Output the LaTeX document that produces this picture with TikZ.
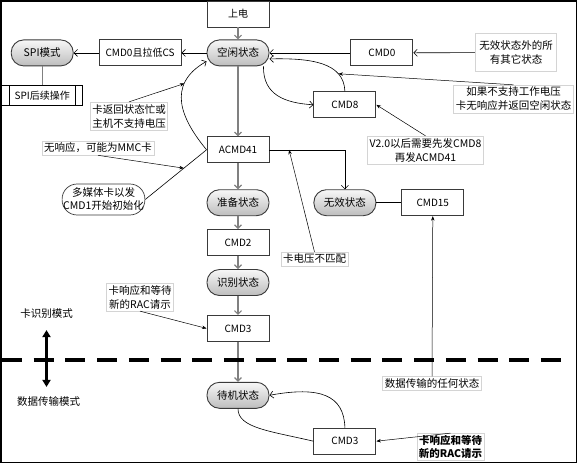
\documentclass[tikz,border=0pt]{standalone}
\usepackage{fontspec}
\setmainfont{Noto Sans CJK SC}
\usepackage{xcolor}
\usepackage{tikz}
\usetikzlibrary{positioning, arrows.meta}
\definecolor{flowgray}{HTML}{808080}
\definecolor{statetop}{HTML}{F7F7F7}
\definecolor{statebottom}{HTML}{BDBDBD}
\definecolor{notegray}{HTML}{D4D4D4}
\definecolor{edgegray}{HTML}{3A3A3A}
\tikzset{
  box/.style={draw=edgegray, line width=0.9pt, fill=white, align=center, font=\fontsize{10}{12}\selectfont, minimum width=62pt, minimum height=26pt, inner sep=2pt},
  state/.style={draw=edgegray, line width=0.9pt, rounded corners=12.5pt, top color=statetop, bottom color=statebottom, align=center, font=\fontsize{10.5}{12}\selectfont, minimum width=62pt, minimum height=26pt, inner sep=2pt},
  subproc/.style={draw=black, line width=0.8pt, fill=white, font=\fontsize{10}{12}\selectfont, minimum width=81pt, minimum height=20pt, inner sep=2pt},
  mmcbox/.style={draw=edgegray, line width=0.7pt, rounded corners=15pt, fill=white, align=center, font=\fontsize{10.5}{13}\selectfont, minimum width=81pt, minimum height=31pt, inner sep=1pt},
  note/.style={draw=notegray, line width=0.6pt, fill=white, align=center, font=\fontsize{10.5}{14}\selectfont, inner sep=2pt},
  modetext/.style={align=center, font=\fontsize{10.5}{12}\selectfont, inner sep=2pt},
  flow/.style={-{Straight Barb[length=3.5pt,width=7pt]}, line width=1.2pt, draw=flowgray},
  arrow/.style={-{Straight Barb[length=3.5pt,width=7pt]}, line width=0.6pt, draw=black},
  pointer/.style={-{Stealth[length=4.5pt,width=3.5pt]}, line width=0.5pt, draw=black},
  link/.style={line width=0.6pt, draw=black},
  modearrow/.style={{Triangle[length=7pt,width=8pt]}-{Triangle[length=7pt,width=8pt]}, line width=2.4pt, draw=black},
  divider/.style={line width=3.8pt, dash pattern=on 20pt off 11.7pt},
}

\begin{document}
\begin{tikzpicture}[x=1pt, y=-1pt]
  \useasboundingbox (0,0) rectangle (578,464);
  \draw[line width=1.2pt] (1,1) rectangle (576.5,462.5);

  % Main column
  \node[box] (power) at (238,14) {上电};
  \node[state, below=12pt of power] (idle) {空闲状态};
  \node[box, below=70pt of idle] (acmd) {ACMD41};
  \node[state, below=26pt of acmd] (ready) {准备状态};
  \node[box, below=13pt of ready] (cmd2) {CMD2};
  \node[state, below=13pt of cmd2] (ident) {识别状态};
  \node[box, below=19pt of ident] (cmd3) {CMD3};
  \node[state, below=40pt of cmd3] (standby) {待机状态};

  \draw[flow] (power) -- (idle);
  \draw[flow] (idle) -- (acmd);
  \draw[flow] (acmd) -- (ready);
  \draw[flow] (ready) -- (cmd2);
  \draw[flow] (cmd2) -- (ident);
  \draw[flow] (ident) -- (cmd3);
  \draw[flow] (cmd3) -- (standby);

  % SPI branch
  \node[box, left=25pt of idle, minimum width=82pt] (cmdcs) {CMD0且拉低CS};
  \node[state, left=25pt of cmdcs] (spi) {SPI模式};
  \node[subproc, below=19pt of spi] (spiop) {SPI后续操作};
  \draw[link] ([xshift=8pt]spiop.north west) -- ([xshift=8pt]spiop.south west);
  \draw[link] ([xshift=-8pt]spiop.north east) -- ([xshift=-8pt]spiop.south east);

  \draw[arrow] (idle) -- (cmdcs);
  \draw[arrow] (cmdcs) -- (spi);
  \draw[flowgray, line width=0.9pt] (spi) -- (spiop);

  % Reset from any state
  \node[box, right=81pt of idle] (cmd0) {CMD0};
  \node[note, inner xsep=4pt, inner ysep=7pt] (noteall) at (516,52.5) {无效状态外的所\\有其它状态};
  \draw[arrow] (noteall) -- (cmd0);
  \draw[arrow] (cmd0) -- (idle);

  % CMD8 loop
  \node[box, below right=25pt and 44pt of idle] (cmd8) {CMD8};
  \draw[arrow] ([xshift=-6pt]idle.south east) .. controls (263,95) and (285,103) .. (cmd8.west);
  \draw[arrow] (cmd8.north) .. controls (344,62) and (310,58) .. ([yshift=-6pt]idle.east)
    coordinate[pos=0.25] (backpt);
  \node[note] (notevolt) at (513.5,99) {如果不支持工作电压\\卡无响应并返回空闲状态};
  \draw[pointer] (notevolt.north) -- (backpt);
  \node[note] (notev2) at (425.5,150) {V2.0以后需要先发CMD8\\再发ACMD41};
  \draw[pointer] (notev2.north) -- (cmd8.east);

  % Busy return to idle
  \draw[arrow] (acmd.west) .. controls (182,120) and (165,85) .. (idle.195)
    coordinate[pos=0.72] (busypt);
  \node[note] (notebusy) at (129,116) {卡返回状态忙或\\主机不支持电压};
  \draw[pointer] (notebusy.north) -- (busypt);

  % MMC card
  \node[mmcbox] (mmc) at (103.5,199.5) {多媒体卡以发\\CMD1开始初始化};
  \draw[link] (acmd.west) -- (mmc.east) coordinate[pos=0.37] (mmcpt);
  \node[note] (nommc) at (98,148) {无响应，可能为MMC卡};
  \draw[pointer] (nommc.south) -- (mmcpt);

  % Inactive state
  \node[state, right=44pt of ready] (invalid) {无效状态};
  \node[box, right=25pt of invalid] (cmd15) {CMD15};
  \draw[arrow] (acmd.east) -| (invalid.north) coordinate[pos=0.13] (mispt);
  \draw[link] (invalid) -- (cmd15);
  \node[note] (notemis) at (314.5,259) {卡电压不匹配};
  \draw[pointer] (notemis.north) -- (mispt);
  \node[note] (noteany) at (432,383.5) {数据传输的任何状态};
  \draw[pointer] (noteany.north) -- (cmd15.south);

  % RCA request
  \node[note] (noterca) at (140,297) {卡响应和等待\\新的RAC请示};
  \draw[pointer] (noterca.south) -- (cmd3.west);

  % Mode divider
  \coordinate (divl) at (2,360);
  \coordinate (divr) at (565,360);
  \draw[divider] (divl) -- (divr);
  \node[modetext] (lblid) at (46.5,314) {卡识别模式};
  \node[modetext] (lbldata) at (48.5,402) {数据传输模式};
  \draw[modearrow, shorten <=9pt, shorten >=8pt] (lblid.south) -- (lblid.south |- lbldata.north);

  % Standby loop
  \node[box, below right=19pt and 44pt of standby] (cmd3b) {CMD3};
  \draw[link] (standby.south) .. controls (238,428) and (270,431) .. (cmd3b.west);
  \draw[arrow] (cmd3b.north) .. controls (344,395) and (320,386) .. (standby.east);
  \node[note, font=\fontsize{10.5}{13}\selectfont\bfseries] (noterca2) at (450.5,447) {卡响应和等待\\新的RAC请示};
  \draw[pointer] (noterca2.north) -- (cmd3b.east);
\end{tikzpicture}
\end{document}
